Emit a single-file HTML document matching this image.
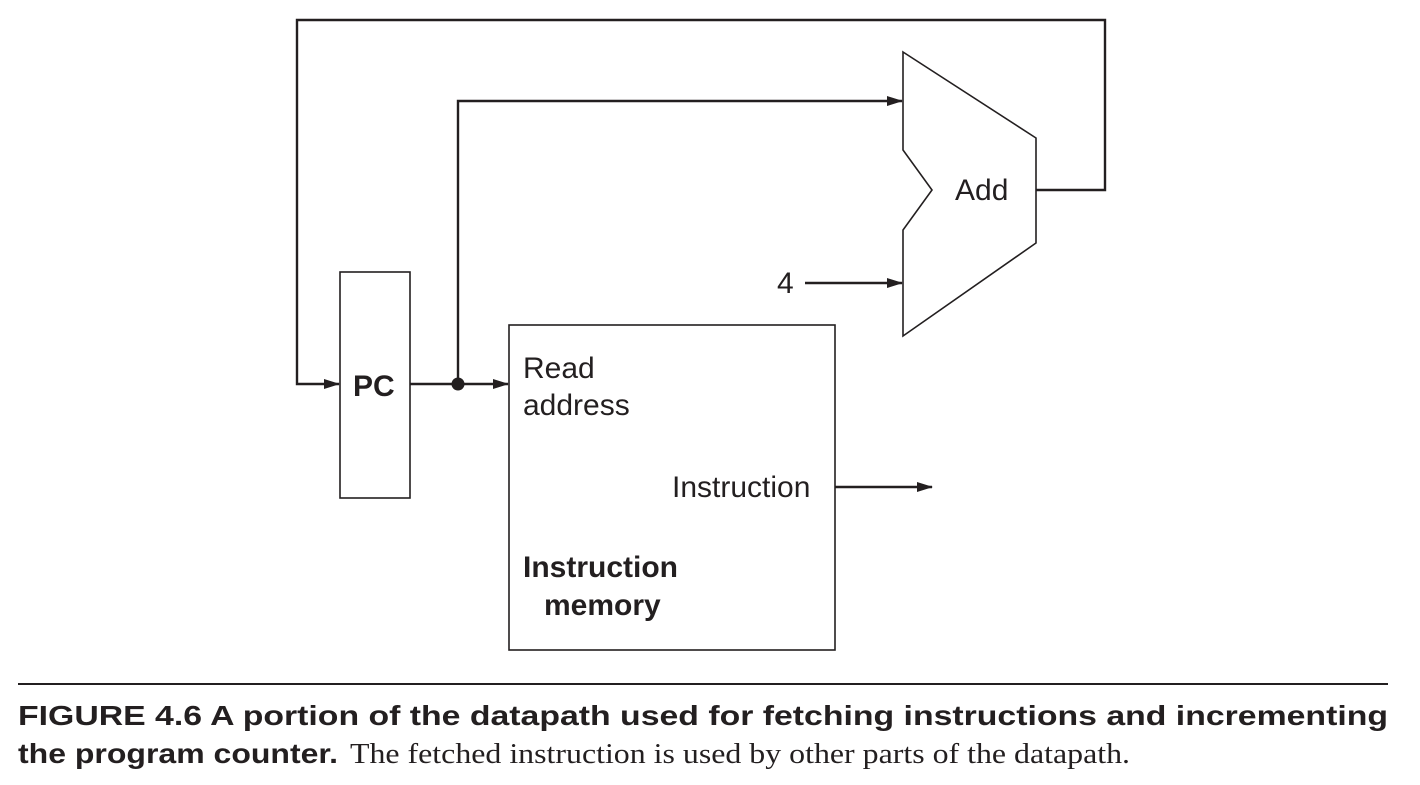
<!DOCTYPE html>
<html><head><meta charset="utf-8"><style>
html,body{margin:0;padding:0;background:#fff;width:1420px;height:785px;overflow:hidden}
</style></head><body>
<svg width="1420" height="785" viewBox="0 0 1420 785" xmlns="http://www.w3.org/2000/svg">
<defs>
<marker id="ah" markerWidth="16" markerHeight="10" refX="15" refY="5" orient="auto" markerUnits="userSpaceOnUse">
<path d="M0,0 L16,5 L0,10 Z" fill="#231f20"/>
</marker>
</defs>
<g stroke="#231f20" stroke-width="2.4" fill="none">
<polyline points="1036,190 1105,190 1105,20 297,20 297,384 339,384" marker-end="url(#ah)"/>
<line x1="410" y1="384" x2="508" y2="384" marker-end="url(#ah)"/>
<polyline points="458,384 458,101 902,101" marker-end="url(#ah)"/>
<line x1="805" y1="283" x2="902" y2="283" marker-end="url(#ah)"/>
<line x1="835" y1="487" x2="932" y2="487" marker-end="url(#ah)"/>
<rect x="340" y="272" width="70" height="226" stroke-width="1.6"/>
<rect x="509" y="325" width="326" height="325" stroke-width="1.6"/>
<polygon points="903,52 1036,138 1036,243 903,336 903,230 932,190 903,150" stroke-width="1.6"/>
</g>
<circle cx="458" cy="384" r="6.5" fill="#231f20"/>
<line x1="18" y1="684" x2="1388" y2="684" stroke="#231f20" stroke-width="2"/>
<g font-family="Liberation Sans, sans-serif" font-size="30" fill="#231f20">
<text x="353" y="396" font-weight="bold">PC</text>
<text x="955" y="200">Add</text>
<text x="777" y="293">4</text>
<text x="523" y="378">Read</text>
<text x="523" y="415">address</text>
<text x="672" y="497">Instruction</text>
<text x="523" y="577" font-weight="bold">Instruction</text>
<text x="544" y="615" font-weight="bold">memory</text>
</g>
<g fill="#231f20">
<text x="18" y="725" font-family="Liberation Sans, sans-serif" font-weight="bold" font-size="28" textLength="1370" lengthAdjust="spacingAndGlyphs">FIGURE 4.6   A portion of the datapath used for fetching instructions and incrementing</text>
<text x="18" y="763" font-family="Liberation Sans, sans-serif" font-weight="bold" font-size="28" textLength="320" lengthAdjust="spacingAndGlyphs">the program counter.</text>
<text x="350" y="763" font-family="Liberation Serif, serif" font-size="29" textLength="780" lengthAdjust="spacingAndGlyphs">The fetched instruction is used by other parts of the datapath.</text>
</g>
</svg>
</body></html>
